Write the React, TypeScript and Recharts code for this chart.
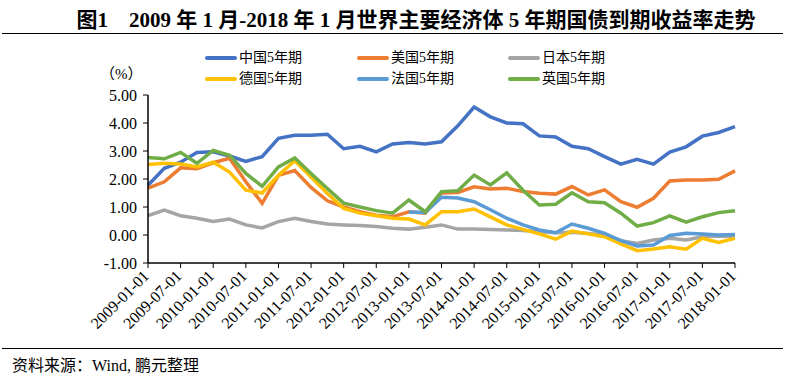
import { Line, LineChart, XAxis, YAxis } from "recharts";

const dates = [
  "2009-01-01", "2009-04-01", "2009-07-01", "2009-10-01",
  "2010-01-01", "2010-04-01", "2010-07-01", "2010-10-01",
  "2011-01-01", "2011-04-01", "2011-07-01", "2011-10-01",
  "2012-01-01", "2012-04-01", "2012-07-01", "2012-10-01",
  "2013-01-01", "2013-04-01", "2013-07-01", "2013-10-01",
  "2014-01-01", "2014-04-01", "2014-07-01", "2014-10-01",
  "2015-01-01", "2015-04-01", "2015-07-01", "2015-10-01",
  "2016-01-01", "2016-04-01", "2016-07-01", "2016-10-01",
  "2017-01-01", "2017-04-01", "2017-07-01", "2017-10-01",
  "2018-01-01",
];

const china = [
  1.78, 2.38, 2.6, 2.95, 2.97, 2.82, 2.63, 2.8, 3.45, 3.56, 3.56, 3.6,
  3.08, 3.17, 2.97, 3.25, 3.3, 3.25, 3.33, 3.9, 4.57, 4.22, 4.0, 3.97,
  3.54, 3.5, 3.17, 3.08, 2.8, 2.53, 2.7, 2.53, 2.96, 3.15, 3.53, 3.66, 3.87,
];
const usa = [
  1.67, 1.9, 2.4, 2.37, 2.58, 2.74, 1.9, 1.13, 2.13, 2.3, 1.7, 1.22,
  1.0, 0.83, 0.71, 0.65, 0.83, 0.78, 1.5, 1.52, 1.72, 1.64, 1.67, 1.55,
  1.49, 1.46, 1.73, 1.43, 1.61, 1.19, 0.99, 1.31, 1.93, 1.96, 1.96, 1.99, 2.29,
];
const japan = [
  0.69, 0.89, 0.69, 0.6, 0.48, 0.57, 0.36, 0.25, 0.48, 0.6, 0.48, 0.39,
  0.36, 0.34, 0.3, 0.24, 0.21, 0.28, 0.36, 0.21, 0.21, 0.2, 0.18, 0.16,
  0.12, 0.08, 0.1, 0.05, 0.0, -0.2, -0.3, -0.18, -0.12, -0.18, -0.06, -0.04, -0.06,
];
const germany = [
  2.52, 2.56, 2.54, 2.43, 2.6, 2.25, 1.6, 1.5, 2.13, 2.65, 2.07, 1.48,
  0.95, 0.78, 0.69, 0.6, 0.57, 0.36, 0.83, 0.83, 0.93, 0.65, 0.36, 0.2,
  0.04, -0.15, 0.14, 0.04, -0.06, -0.32, -0.56, -0.5, -0.42, -0.51, -0.12, -0.27, -0.12,
];
const france = [
  null, null, null, null, null, null, null, null, null, null, null, null,
  null, null, null, null, 0.82, 0.8, 1.35, 1.32, 1.19, 0.9, 0.6, 0.36,
  0.18, 0.08, 0.39, 0.24, 0.06, -0.2, -0.39, -0.36, -0.02, 0.06, 0.04, 0.0, 0.02,
];
const uk = [
  2.77, 2.72, 2.95, 2.56, 3.02, 2.85, 2.2, 1.74, 2.43, 2.75, 2.2, 1.66,
  1.14, 1.0, 0.87, 0.78, 1.25, 0.83, 1.55, 1.58, 2.14, 1.79, 2.22, 1.6,
  1.07, 1.1, 1.51, 1.19, 1.15, 0.78, 0.32, 0.44, 0.68, 0.46, 0.65, 0.8, 0.87,
];

const yTicks = [-1, 0, 1, 2, 3, 4, 5];
const xTicks = dates.filter((_, i) => i % 2 === 0);

const series = [
  { key: "china", name: "中国5年期", color: "#4472C4", values: china },
  { key: "usa", name: "美国5年期", color: "#ED7D31", values: usa },
  { key: "japan", name: "日本5年期", color: "#A5A5A5", values: japan },
  { key: "germany", name: "德国5年期", color: "#FFC000", values: germany },
  { key: "france", name: "法国5年期", color: "#5B9BD5", values: france },
  { key: "uk", name: "英国5年期", color: "#70AD47", values: uk },
];

const data = dates.map((date, i) => {
  const row: Record<string, string | number | null> = { date };
  series.forEach((s) => {
    row[s.key] = s.values[i];
  });
  return row;
});

const serif = '"Times New Roman", "Liberation Serif", "Noto Sans CJK SC", serif';
const cjk = '"Times New Roman", "Liberation Serif", "Noto Sans CJK SC", sans-serif';

function DateTick({ x, y, payload }: any) {
  const ax = x + 2;
  const ay = y + 7;
  return (
    <text
      x={ax}
      y={ay}
      textAnchor="end"
      transform={`rotate(-45 ${ax} ${ay})`}
      fontSize={16}
      fontFamily={serif}
      fill="#000"
    >
      {payload.value}
    </text>
  );
}

const legendPos = [
  { left: 205, top: 49 },
  { left: 357, top: 49 },
  { left: 508, top: 49 },
  { left: 205, top: 70 },
  { left: 357, top: 70 },
  { left: 508, top: 70 },
];

export default function App() {
  return (
    <div
      style={{
        position: "absolute",
        left: 0,
        top: 0,
        width: 785,
        height: 380,
        background: "#fff",
        fontFamily: cjk,
        color: "#000",
      }}
    >
      <div
        style={{
          position: "absolute",
          left: 0,
          top: 3,
          width: 832,
          textAlign: "center",
          fontSize: 21,
          fontWeight: "bold",
          fontFamily: serif,
          whiteSpace: "pre",
        }}
      >
        {"图1　2009 年 1 月-2018 年 1 月世界主要经济体 5 年期国债到期收益率走势"}
      </div>
      <div style={{ position: "absolute", left: 2, right: 2, top: 33, borderTop: "1.5px solid #000" }} />

      {series.map((s, i) => (
        <div
          key={s.key}
          style={{
            position: "absolute",
            left: legendPos[i].left,
            top: legendPos[i].top,
            display: "flex",
            alignItems: "center",
            fontSize: 14,
            lineHeight: "18px",
            whiteSpace: "nowrap",
          }}
        >
          <span style={{ display: "inline-block", width: 32, height: 4, borderRadius: 2, background: s.color, marginRight: 2 }} />
          {s.name}
        </div>
      ))}
      <div style={{ position: "absolute", left: 100, top: 62, fontSize: 15 }}>（%）</div>

      <LineChart
        width={785}
        height={380}
        data={data}
        margin={{ top: 95, right: 50, bottom: 37, left: 88 }}
      >
        <XAxis
          dataKey="date"
          scale="point"
          ticks={xTicks}
          interval={0}
          tick={<DateTick />}
          height={80}
          tickSize={5}
          stroke="#000"
          tickLine={{ stroke: "#000" }}
          axisLine={{ stroke: "#000", strokeWidth: 1.5 }}
        />
        <YAxis
          domain={[-1, 5]}
          ticks={yTicks}
          width={60}
          tickSize={5}
          tickMargin={6}
          tickFormatter={(v: number) => v.toFixed(2)}
          tick={{ fontSize: 16, fontFamily: serif, fill: "#000" }}
          axisLine={{ stroke: "#000", strokeWidth: 1.5 }}
          tickLine={{ stroke: "#000" }}
          allowDataOverflow
        />
        {series.map((s) => (
          <Line
            key={s.key}
            type="linear"
            dataKey={s.key}
            name={s.name}
            stroke={s.color}
            strokeWidth={3.5}
            dot={false}
            activeDot={false}
            isAnimationActive={false}
            connectNulls={false}
          />
        ))}
      </LineChart>

      <div style={{ position: "absolute", left: 2, right: 2, top: 348, borderTop: "1.5px solid #000" }} />
      <div style={{ position: "absolute", left: 12, top: 352, fontSize: 16, whiteSpace: "nowrap" }}>
        资料来源：Wind, 鹏元整理
      </div>
    </div>
  );
}
